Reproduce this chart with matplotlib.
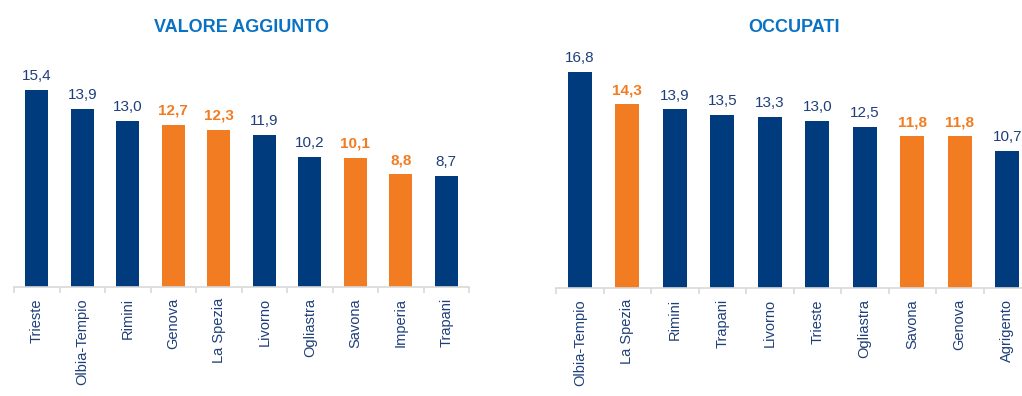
import matplotlib
matplotlib.use("Agg")
import matplotlib.pyplot as plt
from matplotlib.ticker import FixedLocator

plt.rcParams['font.family'] = ['Liberation Sans Narrow', 'Liberation Sans', 'DejaVu Sans']

# Valore aggiunto
va_labels = ["Trieste", "Olbia-Tempio", "Rimini", "Genova", "La Spezia",
             "Livorno", "Ogliastra", "Savona", "Imperia", "Trapani"]
va_values = [15.4, 13.9, 13.0, 12.7, 12.3, 11.9, 10.2, 10.1, 8.8, 8.7]
va_liguria = [False, False, False, True, True, False, False, True, True, False]

# Occupati
occ_labels = ["Olbia-Tempio", "La Spezia", "Rimini", "Trapani", "Livorno",
              "Trieste", "Ogliastra", "Savona", "Genova", "Agrigento"]
occ_values = [16.8, 14.3, 13.9, 13.5, 13.3, 13.0, 12.5, 11.8, 11.8, 10.7]
occ_liguria = [False, True, False, False, False, False, False, True, True, False]

BLUE = "#003B7E"
ORANGE = "#F27C22"
TEXT_BLUE = "#1F3F7A"
TITLE_BLUE = "#0A72C2"
AXIS_GRAY = "#D9D9D9"

W, H = 1022, 396
fig = plt.figure(figsize=(W / 100, H / 100), dpi=100)


def panel(x0, x1, base_y, top_y, title, labels, values, flags):
    ax = fig.add_axes([x0 / W, (H - base_y) / H, (x1 - x0) / W, (base_y - top_y) / H])
    n = len(values)
    xs = list(range(n))
    colors = [ORANGE if f else BLUE for f in flags]
    ax.bar(xs, values, width=0.5, color=colors, edgecolor="none")
    ax.set_xlim(-0.5, n - 0.5)
    ax.set_ylim(0, 17.75)
    for x, v, f in zip(xs, values, flags):
        ax.annotate(f"{v:.1f}".replace(".", ","), (x, v), xytext=(0, 5),
                    textcoords="offset points", ha="center", va="bottom",
                    fontsize=11, color=ORANGE if f else TEXT_BLUE,
                    fontweight="bold" if f else "normal")
    for s in ("top", "right", "left"):
        ax.spines[s].set_visible(False)
    ax.spines["bottom"].set_color(AXIS_GRAY)
    ax.spines["bottom"].set_linewidth(1.2)
    ax.set_yticks([])
    ax.set_xticks(xs)
    ax.set_xticklabels(labels, rotation=90, ha="center", va="top",
                       fontsize=10.5, color=TEXT_BLUE)
    ax.tick_params(axis="x", which="major", length=0, pad=8)
    ax.xaxis.set_minor_locator(FixedLocator([i - 0.5 for i in range(n + 1)]))
    ax.tick_params(axis="x", which="minor", length=4, width=1.2, color=AXIS_GRAY)
    fig.text((x0 + x1) / 2 / W, 1 - 27 / H, title, ha="center", va="center",
             fontsize=13, fontweight="bold", color=TITLE_BLUE)
    return ax


panel(14, 469, 287, 60, "VALORE AGGIUNTO", va_labels, va_values, va_liguria)
panel(556, 1031, 288, 60, "OCCUPATI", occ_labels, occ_values, occ_liguria)

fig.savefig("out.png", dpi=100, facecolor="white")
